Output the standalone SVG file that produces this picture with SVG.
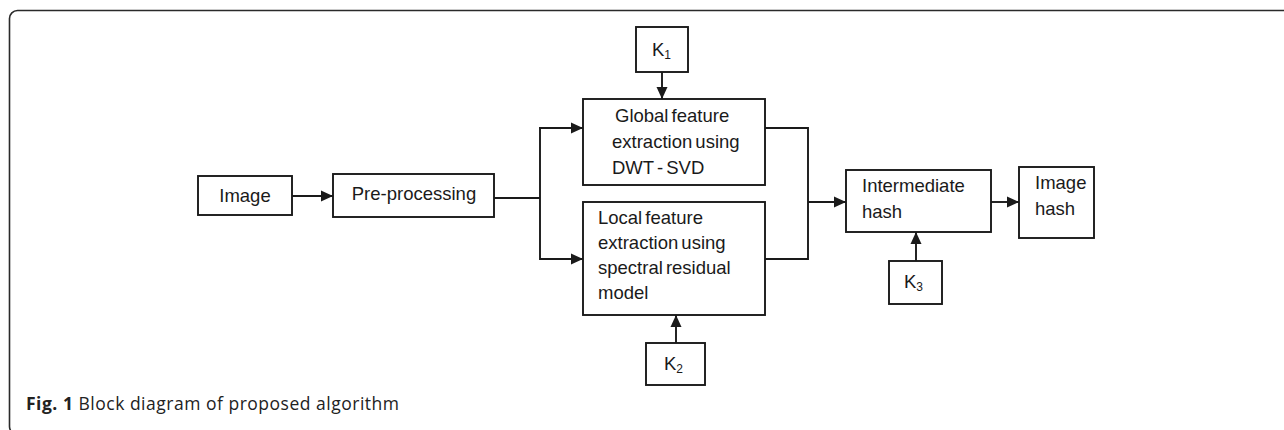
<svg xmlns="http://www.w3.org/2000/svg" width="1284" height="430" viewBox="0 0 1284 430">
  <style>
    .box { fill: #ffffff; stroke: #1a1a1a; stroke-width: 1.9; }
    .lbl { font-family: "Liberation Sans", Arial, sans-serif; font-size: 18.5px; fill: #1a1a1a; word-spacing: -2px; }
    .sub { font-size: 12px; }
    .wire { fill: none; stroke: #1a1a1a; stroke-width: 1.9; }
    .cap { font-family: "Open Sans", "Noto Sans", sans-serif; font-size: 17.5px; fill: #222; }
  </style>
  <defs>
    <marker id="arrow" viewBox="0 0 12 12" refX="12" refY="6" markerWidth="12" markerHeight="12" markerUnits="userSpaceOnUse" orient="auto">
      <path d="M0,0.5 L12,6 L0,11.5 z" fill="#1a1a1a"/>
    </marker>
  </defs>

  <!-- outer frame -->
  <rect x="9.5" y="10.5" width="1300" height="424" rx="8" ry="8" fill="none" stroke="#2a2a2a" stroke-width="1.6"/>

  <g id="connectors">
    <line class="wire" x1="292" y1="196" x2="333" y2="196" marker-end="url(#arrow)"/>
    <polyline class="wire" points="494,198 540,198"/>
    <polyline class="wire" points="540,128 540,259 583,259" marker-end="url(#arrow)"/>
    <line class="wire" x1="539" y1="128" x2="583" y2="128" marker-end="url(#arrow)"/>
    <line class="wire" x1="662" y1="72" x2="662" y2="99" marker-end="url(#arrow)"/>
    <line class="wire" x1="676" y1="343" x2="676" y2="315" marker-end="url(#arrow)"/>
    <polyline class="wire" points="765,128 808,128 808,259 765,259"/>
    <line class="wire" x1="808" y1="202" x2="846" y2="202" marker-end="url(#arrow)"/>
    <line class="wire" x1="991" y1="202" x2="1019" y2="202" marker-end="url(#arrow)"/>
    <line class="wire" x1="916" y1="261" x2="916" y2="232" marker-end="url(#arrow)"/>
  </g>

  <g id="image">
    <rect class="box" x="198" y="176" width="94" height="39"/>
    <text class="lbl" x="245" y="202" text-anchor="middle">Image</text>
  </g>

  <g id="preprocessing">
    <rect class="box" x="333" y="174" width="161" height="43"/>
    <text class="lbl" x="414" y="200" text-anchor="middle">Pre-processing</text>
  </g>

  <g id="k1">
    <rect class="box" x="636" y="27" width="52" height="45"/>
    <text class="lbl" x="652" y="56">K<tspan class="sub" dy="3">1</tspan></text>
  </g>

  <g id="global-feature">
    <rect class="box" x="583" y="99" width="182" height="86"/>
    <text class="lbl" x="615" y="122">Global feature</text>
    <text class="lbl" x="612" y="148">extraction using</text>
    <text class="lbl" x="612" y="174">DWT - SVD</text>
  </g>

  <g id="local-feature">
    <rect class="box" x="583" y="202" width="182" height="113"/>
    <text class="lbl" x="598" y="224">Local feature</text>
    <text class="lbl" x="598" y="249">extraction using</text>
    <text class="lbl" x="598" y="274">spectral residual</text>
    <text class="lbl" x="598" y="299">model</text>
  </g>

  <g id="k2">
    <rect class="box" x="646" y="343" width="59" height="42"/>
    <text class="lbl" x="664" y="370">K<tspan class="sub" dy="3">2</tspan></text>
  </g>

  <g id="intermediate-hash">
    <rect class="box" x="846" y="170" width="145" height="62"/>
    <text class="lbl" x="862" y="192">Intermediate</text>
    <text class="lbl" x="862" y="218">hash</text>
  </g>

  <g id="k3">
    <rect class="box" x="889" y="261" width="53" height="43"/>
    <text class="lbl" x="904" y="288">K<tspan class="sub" dy="3">3</tspan></text>
  </g>

  <g id="image-hash">
    <rect class="box" x="1019" y="167" width="75" height="71"/>
    <text class="lbl" x="1035" y="189">Image</text>
    <text class="lbl" x="1035" y="215">hash</text>
  </g>

  <text class="cap" x="26" y="410" textLength="373" lengthAdjust="spacing"><tspan font-weight="bold">Fig. 1</tspan> Block diagram of proposed algorithm</text>
</svg>
